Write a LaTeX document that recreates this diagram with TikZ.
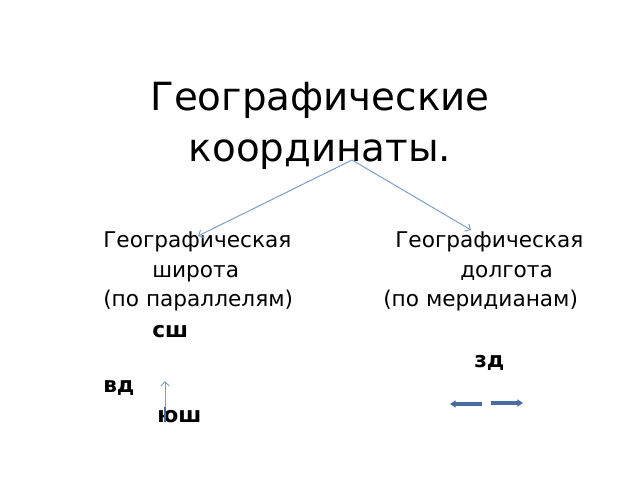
\documentclass[tikz,border=0pt]{standalone}
\usepackage{fontspec}
\setmainfont{DejaVu Sans}
\usepackage{tikz}
\usetikzlibrary{arrows.meta}

\definecolor{thinblue}{RGB}{120,158,204}
\definecolor{darkblue}{RGB}{74,108,160}

\begin{document}
\begin{tikzpicture}
[x=0.025cm,y=-0.025cm,>={Straight Barb[length=3pt,width=6pt]},inner sep=0pt]

	\useasboundingbox (0,0) rectangle (640,480);

	% title
	\node[anchor=base] (title1) at (320,110)
	{\fontsize{27.6}{30}\selectfont Географические};
	\node[anchor=base] (title2) at (320,161)
	{\fontsize{27.6}{30}\selectfont координаты.};

	% left column
	\node[anchor=base west] (lat) at (103,247)
	{\fontsize{15.4}{18}\selectfont Географическая};
	\node[anchor=base west] (latname) at (152,277)
	{\fontsize{15.4}{18}\selectfont широта};
	\node[anchor=base west] (latby) at (103,306)
	{\fontsize{15.4}{18}\selectfont (по параллелям)};
	\node[anchor=base west] (north) at (152,337)
	{\fontsize{15.4}{18}\selectfont\bfseries сш};
	\node[anchor=base west] (east) at (103,392)
	{\fontsize{15.4}{18}\selectfont\bfseries вд};
	\node[anchor=base west] (south) at (157,422)
	{\fontsize{15.4}{18}\selectfont\bfseries юш};

	% right column
	\node[anchor=base west] (lon) at (395,247)
	{\fontsize{15.4}{18}\selectfont Географическая};
	\node[anchor=base west] (lonname) at (460,277)
	{\fontsize{15.4}{18}\selectfont долгота};
	\node[anchor=base west] (lonby) at (383,306)
	{\fontsize{15.4}{18}\selectfont (по меридианам)};
	\node[anchor=base west] (west) at (474,367)
	{\fontsize{15.4}{18}\selectfont\bfseries зд};

	\coordinate (split) at (352,160);
	\coordinate (latend) at (198,236);
	\coordinate (lonend) at (471,230);
	\draw[->, thinblue, line width=0.7pt] (split) -- (latend);
	\draw[->, thinblue, line width=0.7pt] (split) -- (lonend);

	\coordinate (uplow) at (165,422);
	\coordinate (uptop) at (165,381);
	\draw[->, thinblue, line width=0.7pt] (uplow) -- (uptop);
	\draw[darkblue, line width=2pt] (uplow) -- (165,407);

	\coordinate (leftfrom) at (482,404);
	\coordinate (leftto) at (450,404);
	\coordinate (rightfrom) at (491,403);
	\coordinate (rightto) at (523,403);
	\draw[-{Triangle[length=4pt,width=5pt]}, darkblue, line width=2.2pt] (leftfrom) -- (leftto);
	\draw[-{Triangle[length=4pt,width=5pt]}, darkblue, line width=2.2pt] (rightfrom) -- (rightto);
\end{tikzpicture}
\end{document}
